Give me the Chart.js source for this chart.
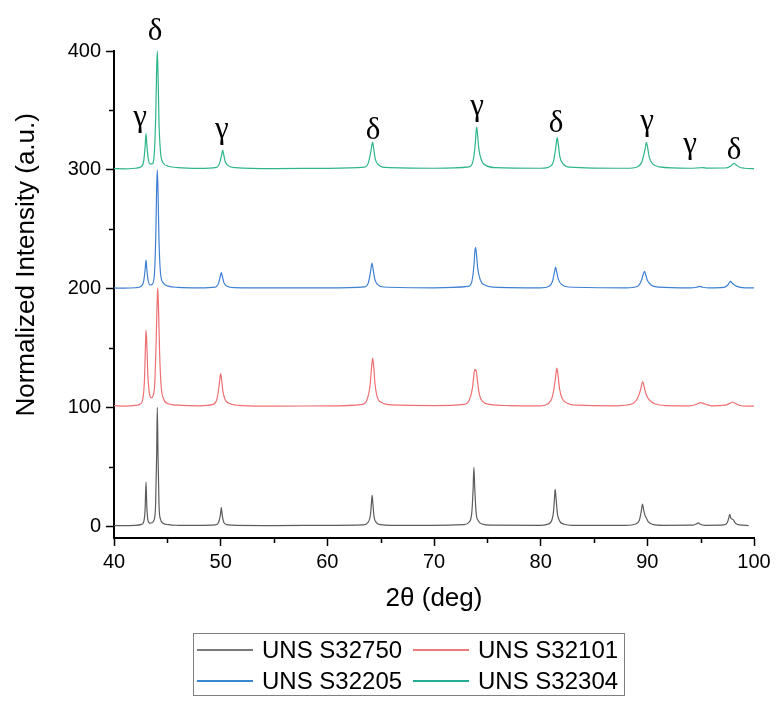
<!DOCTYPE html>
<html>
<head>
<meta charset="utf-8">
<script src="https://cdn.jsdelivr.net/npm/chart.js@4/dist/chart.umd.min.js"></script>
<style>
  html, body { margin: 0; padding: 0; background: #ffffff; }
  #wrap { position: relative; width: 779px; height: 705px; background: #ffffff; }
  #legend { position: absolute; left: 193px; top: 633px; width: 432px; height: 63px;
    border: 1px solid #808080; box-sizing: border-box; font-family: "Liberation Sans", Arial, sans-serif;
    font-size: 24px; color: #000; }
  .item { position: absolute; height: 30px; display: flex; align-items: center; }
  .swatch { display: block; width: 56px; height: 1.2px; margin-right: 9px; }
</style>
</head>
<body>
<div id="wrap">
  <canvas id="c" width="779" height="705"></canvas>
  <div id="legend"></div>
</div>
<script>
// ---- data (2θ in degrees, normalized intensity with stacking offsets) ----
const seriesLabels = ["UNS S32750", "UNS S32101", "UNS S32205", "UNS S32304"];
const seriesColors = ["#5c5c5c", "#ee7073", "#3f80d2", "#2fb58c"];
const legendColors = ["#7a7a7a", "#ee7a7c", "#3a86d0", "#25ad94"];

const xrdS32750 = [
[40,0.5],[41,0.4],[42,0.7],[42.6,1.5],[42.8,4],[42.92,15],[43.0,37],[43.08,16],[43.18,5],[43.35,2.5],[43.55,2.8],[43.75,5],[43.9,18],[44.0,60],[44.06,100],[44.13,58],[44.22,18],[44.35,6],[44.6,2.5],[45.1,1.2],[46,0.7],[48,0.6],[49.5,1],[49.8,3],[49.97,9],[50.06,15.5],[50.15,9],[50.3,3],[50.6,1.2],[51.5,0.6],[55,0.5],[60,0.6],[63.4,1],[63.8,3],[64.05,10],[64.14,20],[64.2,26],[64.27,19],[64.38,8],[64.6,3],[65,1.2],[66,0.7],[70,0.6],[72.8,1.2],[73.3,3.5],[73.55,12],[73.66,30],[73.74,49.5],[73.82,32],[73.95,11],[74.15,4.5],[74.5,1.8],[75.3,0.8],[80,0.7],[80.6,1.5],[81.0,4],[81.2,12],[81.3,24],[81.36,31],[81.44,24],[81.56,11],[81.8,4],[82.2,1.6],[83,0.7],[88,0.7],[88.9,1.8],[89.25,5],[89.42,12],[89.55,18.5],[89.65,14],[89.78,9],[89.9,7],[90.1,3.5],[90.5,1.5],[91.5,0.7],[94.3,0.8],[94.6,1.8],[94.76,2.8],[94.95,1.6],[95.4,0.7],[97.2,1],[97.5,3],[97.65,7.5],[97.73,10],[97.82,7],[97.92,6],[98.05,5.5],[98.25,2.5],[98.6,1],[99.5,0.5]
];

const xrdS32101 = [
[40,101.5],[41,101],[42,101.6],[42.5,103],[42.7,107],[42.85,122],[42.95,152],[43.0,165],[43.07,155],[43.17,128],[43.3,113],[43.5,108],[43.65,109.5],[43.82,120],[43.95,155],[44.05,190],[44.1,200.5],[44.17,185],[44.28,145],[44.42,118],[44.65,107],[45.1,103],[46,101.8],[48,101.3],[49.3,102.5],[49.65,107],[49.85,118],[49.95,126],[50.0,128.5],[50.08,124],[50.22,113],[50.45,106],[50.9,103],[52,101.5],[55,101],[60,101.2],[63.3,102.5],[63.75,107],[64.0,118],[64.15,134],[64.25,141.5],[64.33,136],[64.48,119],[64.7,108],[65.1,104],[66,102],[70,101.5],[72.8,102.5],[73.3,106],[73.6,116],[73.75,128],[73.83,132],[73.9,131],[73.95,131.5],[74.05,124],[74.25,111],[74.55,105],[75.2,102.5],[77,101.5],[80,101.3],[80.7,103],[81.1,109],[81.35,122],[81.47,131],[81.52,133],[81.6,129],[81.78,115],[82.05,107],[82.5,103.5],[83.5,101.8],[87,101.3],[88.6,103],[89.1,108],[89.4,116],[89.52,121],[89.58,121.5],[89.68,118],[89.88,111],[90.2,106],[90.7,103],[91.8,101.5],[94,101.3],[94.6,102.5],[95.0,104],[95.4,102.8],[96,101.3],[97.3,101.8],[97.75,103.5],[97.98,104.5],[98.2,103.5],[98.6,101.8],[99.3,101],[100,101]
];

const xrdS32205 = [
[40,200.5],[41,200.3],[42,200.7],[42.55,202],[42.78,206],[42.92,216],[43.0,224],[43.08,216],[43.2,207],[43.38,203],[43.58,203.5],[43.78,211],[43.92,245],[44.0,285],[44.06,300],[44.13,280],[44.22,240],[44.35,214],[44.6,205],[45.1,202],[46,201],[48,200.6],[49.5,201.2],[49.82,205],[49.98,211],[50.06,213.5],[50.14,211],[50.3,205],[50.6,202],[51.3,200.8],[55,200.5],[60,200.6],[63.5,201.5],[63.85,205],[64.05,214],[64.18,221.5],[64.28,217],[64.45,208],[64.7,203.5],[65.3,201.3],[70,200.6],[73.2,201.8],[73.55,206],[73.75,220],[73.84,232],[73.9,234.5],[73.97,230],[74.1,217],[74.35,207],[74.8,202.8],[75.6,201.2],[80,200.6],[80.8,202],[81.1,206],[81.3,214],[81.4,218],[81.48,215],[81.65,208],[81.95,203.5],[82.6,201.3],[88,200.6],[89.1,202],[89.45,207],[89.65,213],[89.74,214.5],[89.82,212.5],[90.0,207],[90.35,203],[91,201.2],[94,200.6],[94.6,201.1],[94.9,201.8],[95.2,201.1],[95.8,200.6],[97.2,201],[97.55,203],[97.72,205.5],[97.8,206],[97.9,205],[98.1,203.5],[98.4,201.8],[98.9,200.8],[100,200.5]
];

const xrdS32304 = [
[40,301],[41,300.8],[42,301.3],[42.55,302.5],[42.78,307],[42.92,320],[43.0,330.5],[43.08,321],[43.2,310],[43.38,305],[43.58,305],[43.78,314],[43.92,348],[44.0,385],[44.06,400],[44.13,380],[44.22,340],[44.35,316],[44.6,306],[45.1,303],[46,301.8],[48,301.2],[49.6,302],[49.92,306],[50.1,313],[50.19,316.5],[50.27,313.5],[50.42,307],[50.7,303.5],[51.4,301.8],[55,301],[60,301.2],[63.5,302.2],[63.85,306],[64.07,315],[64.18,321],[64.25,323],[64.33,319],[64.5,309],[64.75,304.5],[65.4,302],[70,301.3],[73.3,302.5],[73.65,307],[73.85,320],[73.95,332],[74.0,336],[74.07,331],[74.2,318],[74.45,308],[74.9,303.5],[75.8,301.8],[80,301.3],[80.9,302.8],[81.2,307],[81.42,319],[81.55,327],[81.63,323],[81.8,311],[82.1,305],[82.7,302.3],[88,301.3],[89.1,302.6],[89.5,307],[89.78,317],[89.92,323],[90.02,319],[90.2,310],[90.5,305],[91.1,302.5],[94,301.3],[94.8,301.6],[95.2,301.8],[95.6,301.4],[97.3,301.5],[97.8,303],[98.05,305],[98.14,305.5],[98.3,304.3],[98.6,302.3],[99.1,301.3],[100,301]
];

const seriesData = [xrdS32750, xrdS32101, xrdS32205, xrdS32304];

// axis ticks
const xMajorTicks = [40, 50, 60, 70, 80, 90, 100];
const xMinorTicks = [45, 55, 65, 75, 85, 95];
const yMajorTicks = [0, 100, 200, 300, 400];
const yMinorTicks = [50, 150, 250, 350];

// phase labels (text, 2θ, intensity position)
const phaseText = ["γ", "δ", "γ", "δ", "γ", "δ", "γ", "γ", "δ"];
const phaseX    = [42.44, 43.84, 50.12, 64.28, 74.03, 81.44, 89.97, 94.0, 98.13];
const phaseY    = [344, 416, 334, 333, 353, 339, 340, 321, 316];

const yTitleText = 'Normalized Intensity (a.u.)';

// ---- plugins ----
const minorTicksPlugin = {
  id: 'minorTicks',
  afterDraw(chart) {
    const ctx = chart.ctx, xs = chart.scales.x, ys = chart.scales.y;
    ctx.save();
    ctx.strokeStyle = '#000';
    ctx.lineWidth = 1.5;
    ctx.beginPath();
    yMinorTicks.forEach(v => {
      const py = Math.round(ys.getPixelForValue(v)) + 0.5;
      ctx.moveTo(xs.left - 5, py); ctx.lineTo(xs.left, py);
    });
    xMinorTicks.forEach(v => {
      const px = Math.round(xs.getPixelForValue(v)) + 0.5;
      ctx.moveTo(px, ys.bottom); ctx.lineTo(px, ys.bottom + 5);
    });
    ctx.stroke();
    ctx.restore();
  }
};

const phaseLabelPlugin = {
  id: 'phaseLabels',
  afterDraw(chart) {
    const ctx = chart.ctx, xs = chart.scales.x, ys = chart.scales.y;
    ctx.save();
    ctx.fillStyle = '#000';
    ctx.font = '31px "Liberation Serif", "Times New Roman", serif';
    ctx.textAlign = 'center';
    ctx.textBaseline = 'middle';
    phaseText.forEach((t, i) => {
      ctx.fillText(t, xs.getPixelForValue(phaseX[i]), ys.getPixelForValue(phaseY[i]));
    });
    // y-axis title, placed relative to the y scale
    ctx.font = '26px "Liberation Sans", Arial, sans-serif';
    ctx.translate(ys.left + 27, ys.getPixelForValue(220));
    ctx.rotate(-Math.PI / 2);
    ctx.fillText(yTitleText, 0, 0);
    ctx.restore();
  }
};

const tickFont = { family: '"Liberation Sans", Arial, sans-serif', size: 20 };
const titleFont = { family: '"Liberation Sans", Arial, sans-serif', size: 26 };

new Chart(document.getElementById('c'), {
  type: 'line',
  data: {
    datasets: seriesData.map((d, i) => ({
      label: seriesLabels[i],
      data: d.map(p => ({ x: p[0], y: p[1] })),
      borderColor: seriesColors[i],
      backgroundColor: seriesColors[i],
      borderWidth: 1.2,
      pointRadius: 0,
      cubicInterpolationMode: 'monotone',
      fill: false,
      clip: 6
    }))
  },
  options: {
    responsive: false,
    animation: false,
    events: [],
    layout: { padding: { left: 0, top: 51, right: 25, bottom: 87 } },
    plugins: { legend: { display: false }, tooltip: { enabled: false }, title: { display: false } },
    scales: {
      x: {
        type: 'linear', min: 40, max: 100,
        afterBuildTicks: s => { s.ticks = xMajorTicks.map(v => ({ value: v })); },
        afterFit: s => { s.height = 80; },
        ticks: { font: tickFont, color: '#000', padding: 4, maxRotation: 0 },
        grid: { drawOnChartArea: false, drawTicks: true, tickLength: 8, tickColor: '#000', tickWidth: 1.5 },
        border: { display: true, color: '#000', width: 2 },
        title: { display: true, text: '2θ (deg)', font: titleFont, color: '#000', padding: { top: 0, bottom: 4 } }
      },
      y: {
        type: 'linear', min: -10, max: 400,
        afterBuildTicks: s => { s.ticks = yMajorTicks.map(v => ({ value: v })); },
        afterFit: s => { s.width = 114; },
        ticks: { font: tickFont, color: '#000', padding: 5 },
        grid: { drawOnChartArea: false, drawTicks: true, tickLength: 8, tickColor: '#000', tickWidth: 1.5 },
        border: { display: true, color: '#000', width: 2 },
        title: { display: false }
      }
    }
  },
  plugins: [minorTicksPlugin, phaseLabelPlugin]
});

// ---- HTML legend built from the series arrays ----
const legend = document.getElementById('legend');
const itemPos = [[3, 1], [219, 1], [3, 32], [219, 32]];
seriesLabels.forEach((lab, i) => {
  const it = document.createElement('div');
  it.className = 'item';
  it.style.left = itemPos[i][0] + 'px';
  it.style.top = itemPos[i][1] + 'px';
  const sw = document.createElement('span');
  sw.className = 'swatch';
  sw.style.backgroundColor = legendColors[i];
  const tx = document.createElement('span');
  tx.textContent = lab;
  it.appendChild(sw); it.appendChild(tx);
  legend.appendChild(it);
});
</script>
</body>
</html>
